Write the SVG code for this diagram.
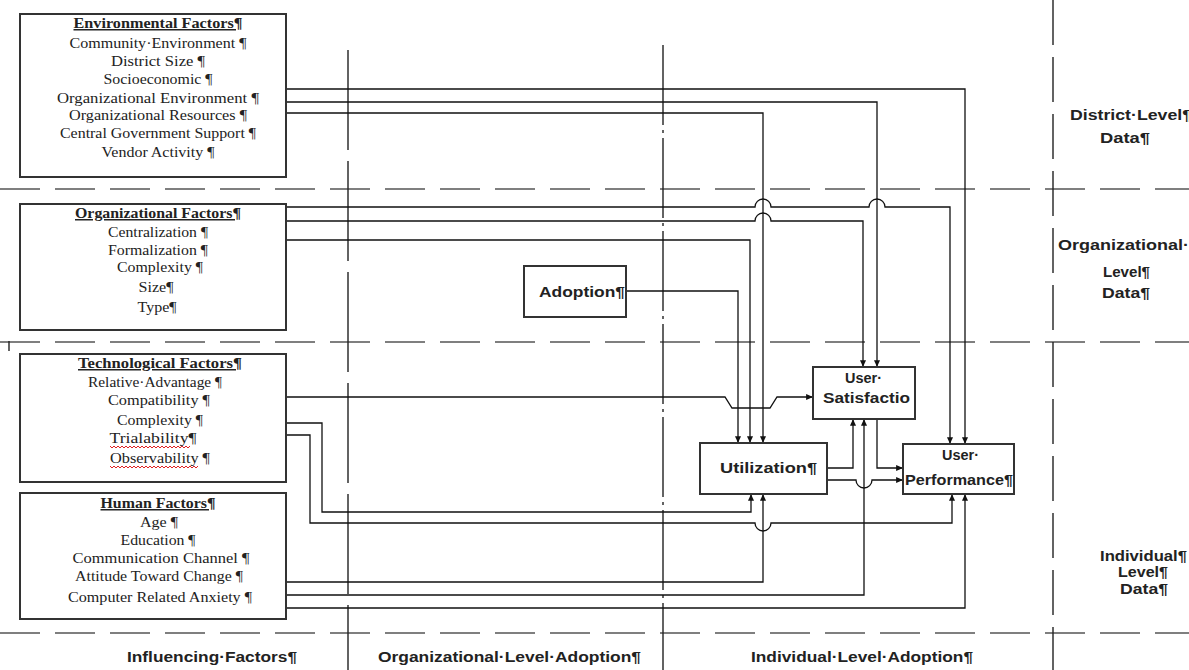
<svg xmlns="http://www.w3.org/2000/svg" width="1189" height="670" viewBox="0 0 1189 670">
<style>
.bg{fill:#fff}
.box{fill:#fff;stroke:#333;stroke-width:2}
.conn{fill:none;stroke:#111;stroke-width:1.3}
.sep{fill:none;stroke:#555;stroke-width:1.6;stroke-dasharray:40 15}
.vsep{fill:none;stroke:#222;stroke-width:1.4}
.lt{font-family:"Liberation Serif","Times New Roman",serif;font-size:15px;text-anchor:middle;fill:#222}
.lh{font-weight:bold;text-decoration:underline}
.lbl{font-family:"Liberation Sans",Arial,sans-serif;font-weight:bold;font-size:14px;fill:#222}
.wavy{fill:none;stroke:#e02020;stroke-width:1}
</style>
<defs>
<marker id="arr" viewBox="0 0 8 7" markerWidth="7" markerHeight="6" refX="8" refY="3.5" orient="auto" markerUnits="userSpaceOnUse">
<path d="M0,0 L8,3.5 L0,7 z" fill="#111"/>
</marker>
</defs>
<rect class="bg" x="0" y="0" width="1189" height="670"/>

<g id="separators">
<line class="sep" x1="0" y1="189" x2="1189" y2="189"/>
<line class="sep" x1="0" y1="342" x2="1189" y2="342"/>
<line class="sep" x1="0" y1="633" x2="1189" y2="633"/>
<line class="vsep" x1="348" y1="50" x2="348" y2="670" stroke-dasharray="100 11"/>
<line class="vsep" x1="663" y1="45" x2="663" y2="670" stroke-dasharray="80 5 3 5"/>
<line class="vsep" x1="1053" y1="0" x2="1053" y2="670" stroke-dasharray="45 12"/>
<line class="vsep" x1="9" y1="341" x2="9" y2="351"/>
</g>

<g id="connectors">
<path class="conn" d="M286,89 H965 V444" marker-end="url(#arr)"/>
<path class="conn" d="M286,102 H877 V367" marker-end="url(#arr)"/>
<path class="conn" d="M286,113 H763 V443" marker-end="url(#arr)"/>
<path class="conn" d="M286,207 H755 A8,8 0 0 1 771,207 H869 A8,8 0 0 1 885,207 H950 V444" marker-end="url(#arr)"/>
<path class="conn" d="M286,221 H755 A8,8 0 0 1 771,221 H863 V367" marker-end="url(#arr)"/>
<path class="conn" d="M286,240 H750 V443" marker-end="url(#arr)"/>
<path class="conn" d="M626,291 H738 V443" marker-end="url(#arr)"/>
<path class="conn" d="M286,397 H725 L732,408 H770 L777,397 H813" marker-end="url(#arr)"/>
<path class="conn" d="M286,423 H322 V512 H751 V494" marker-end="url(#arr)"/>
<path class="conn" d="M286,435 H310 V523 H755 A8,8 0 0 0 771,523 H952 V494" marker-end="url(#arr)"/>
<path class="conn" d="M286,582 H763 V494" marker-end="url(#arr)"/>
<path class="conn" d="M286,595 H864 V419" marker-end="url(#arr)"/>
<path class="conn" d="M286,608 H965 V494" marker-end="url(#arr)"/>
<path class="conn" d="M827,468 H853 V419" marker-end="url(#arr)"/>
<path class="conn" d="M827,480 H856 A8,8 0 0 0 872,480 H903" marker-end="url(#arr)"/>
<path class="conn" d="M877,419 V468 H903" marker-end="url(#arr)"/>
</g>

<g id="env">
<rect class="box" x="20" y="14" width="266" height="163"/>
<text class="lt lh" x="158" y="28" textLength="169" lengthAdjust="spacingAndGlyphs">Environmental Factors¶</text>
<text class="lt" x="158" y="48" textLength="177" lengthAdjust="spacingAndGlyphs">Community·Environment ¶</text>
<text class="lt" x="158" y="66" textLength="94" lengthAdjust="spacingAndGlyphs">District Size ¶</text>
<text class="lt" x="158" y="84" textLength="109" lengthAdjust="spacingAndGlyphs">Socioeconomic ¶</text>
<text class="lt" x="158" y="103" textLength="202" lengthAdjust="spacingAndGlyphs">Organizational Environment ¶</text>
<text class="lt" x="158" y="120" textLength="178" lengthAdjust="spacingAndGlyphs">Organizational Resources ¶</text>
<text class="lt" x="158" y="138" textLength="196" lengthAdjust="spacingAndGlyphs">Central Government Support ¶</text>
<text class="lt" x="158" y="157" textLength="113" lengthAdjust="spacingAndGlyphs">Vendor Activity ¶</text>
</g>

<g id="org">
<rect class="box" x="20" y="204" width="266" height="126"/>
<text class="lt lh" x="158" y="218" textLength="166" lengthAdjust="spacingAndGlyphs">Organizational Factors¶</text>
<text class="lt" x="158" y="237" textLength="100" lengthAdjust="spacingAndGlyphs">Centralization ¶</text>
<text class="lt" x="158" y="255" textLength="100" lengthAdjust="spacingAndGlyphs">Formalization ¶</text>
<text class="lt" x="160" y="272" textLength="86" lengthAdjust="spacingAndGlyphs">Complexity ¶</text>
<text class="lt" x="156" y="292" textLength="35" lengthAdjust="spacingAndGlyphs">Size¶</text>
<text class="lt" x="157" y="312" textLength="39" lengthAdjust="spacingAndGlyphs">Type¶</text>
</g>

<g id="tech">
<rect class="box" x="20" y="354" width="266" height="128"/>
<text class="lt lh" x="160" y="368" textLength="164" lengthAdjust="spacingAndGlyphs">Technological Factors¶</text>
<text class="lt" x="155" y="387" textLength="134" lengthAdjust="spacingAndGlyphs">Relative·Advantage ¶</text>
<text class="lt" x="159" y="405" textLength="102" lengthAdjust="spacingAndGlyphs">Compatibility ¶</text>
<text class="lt" x="160" y="425" textLength="86" lengthAdjust="spacingAndGlyphs">Complexity ¶</text>
<text class="lt" x="153" y="443" textLength="87" lengthAdjust="spacingAndGlyphs">Trialability¶</text>
<text class="lt" x="160" y="463" textLength="100" lengthAdjust="spacingAndGlyphs">Observability ¶</text>
<path class="wavy" d="M110,446 l2,2 l2,-2 l2,2 l2,-2 l2,2 l2,-2 l2,2 l2,-2 l2,2 l2,-2 l2,2 l2,-2 l2,2 l2,-2 l2,2 l2,-2 l2,2 l2,-2 l2,2 l2,-2 l2,2 l2,-2 l2,2 l2,-2 l2,2 l2,-2 l2,2 l2,-2 l2,2 l2,-2 l2,2 l2,-2 l2,2 l2,-2 l2,2 l2,-2 l2,2 l2,-2 l2,2 l2,-2"/>
<path class="wavy" d="M110,466 l2,2 l2,-2 l2,2 l2,-2 l2,2 l2,-2 l2,2 l2,-2 l2,2 l2,-2 l2,2 l2,-2 l2,2 l2,-2 l2,2 l2,-2 l2,2 l2,-2 l2,2 l2,-2 l2,2 l2,-2 l2,2 l2,-2 l2,2 l2,-2 l2,2 l2,-2 l2,2 l2,-2 l2,2 l2,-2 l2,2 l2,-2 l2,2 l2,-2 l2,2 l2,-2 l2,2 l2,-2 l2,2 l2,-2 l2,2 l2,-2"/>
</g>

<g id="human">
<rect class="box" x="20" y="493" width="266" height="126"/>
<text class="lt lh" x="158" y="508" textLength="115" lengthAdjust="spacingAndGlyphs">Human Factors¶</text>
<text class="lt" x="159" y="527" textLength="38" lengthAdjust="spacingAndGlyphs">Age ¶</text>
<text class="lt" x="158" y="545" textLength="75" lengthAdjust="spacingAndGlyphs">Education ¶</text>
<text class="lt" x="161" y="563" textLength="177" lengthAdjust="spacingAndGlyphs">Communication Channel ¶</text>
<text class="lt" x="159" y="581" textLength="168" lengthAdjust="spacingAndGlyphs">Attitude Toward Change ¶</text>
<text class="lt" x="160" y="602" textLength="184" lengthAdjust="spacingAndGlyphs">Computer Related Anxiety ¶</text>
</g>

<g id="adoption">
<rect class="box" x="524" y="266" width="102" height="51"/>
<text class="lbl" x="539" y="297" textLength="86" lengthAdjust="spacingAndGlyphs">Adoption¶</text>
</g>

<g id="utilization">
<rect class="box" x="700" y="443" width="127" height="51"/>
<text class="lbl" x="720" y="473" textLength="97" lengthAdjust="spacingAndGlyphs">Utilization¶</text>
</g>

<g id="satisfaction">
<rect class="box" x="813" y="367" width="102" height="52"/>
<text class="lbl" x="845" y="383" textLength="37" lengthAdjust="spacingAndGlyphs">User·</text>
<text class="lbl" x="823" y="403" textLength="87" lengthAdjust="spacingAndGlyphs">Satisfactio</text>
</g>

<g id="performance">
<rect class="box" x="903" y="444" width="111" height="50"/>
<text class="lbl" x="942" y="460" textLength="37" lengthAdjust="spacingAndGlyphs">User·</text>
<text class="lbl" x="905" y="485" textLength="108" lengthAdjust="spacingAndGlyphs">Performance¶</text>
</g>

<g id="level-labels">
<text class="lbl" x="1070" y="120" textLength="122" lengthAdjust="spacingAndGlyphs">District·Level¶</text>
<text class="lbl" x="1100" y="143" textLength="50" lengthAdjust="spacingAndGlyphs">Data¶</text>
<text class="lbl" x="1058" y="250" textLength="131" lengthAdjust="spacingAndGlyphs">Organizational·</text>
<text class="lbl" x="1103" y="277" textLength="47" lengthAdjust="spacingAndGlyphs">Level¶</text>
<text class="lbl" x="1102" y="298" textLength="48" lengthAdjust="spacingAndGlyphs">Data¶</text>
<text class="lbl" x="1100" y="561" textLength="87" lengthAdjust="spacingAndGlyphs">Individual¶</text>
<text class="lbl" x="1118" y="577" textLength="50" lengthAdjust="spacingAndGlyphs">Level¶</text>
<text class="lbl" x="1120" y="594" textLength="48" lengthAdjust="spacingAndGlyphs">Data¶</text>
</g>

<g id="stage-labels">
<text class="lbl" x="127" y="662" textLength="170" lengthAdjust="spacingAndGlyphs">Influencing·Factors¶</text>
<text class="lbl" x="378" y="662" textLength="263" lengthAdjust="spacingAndGlyphs">Organizational·Level·Adoption¶</text>
<text class="lbl" x="751" y="662" textLength="222" lengthAdjust="spacingAndGlyphs">Individual·Level·Adoption¶</text>
</g>
</svg>
